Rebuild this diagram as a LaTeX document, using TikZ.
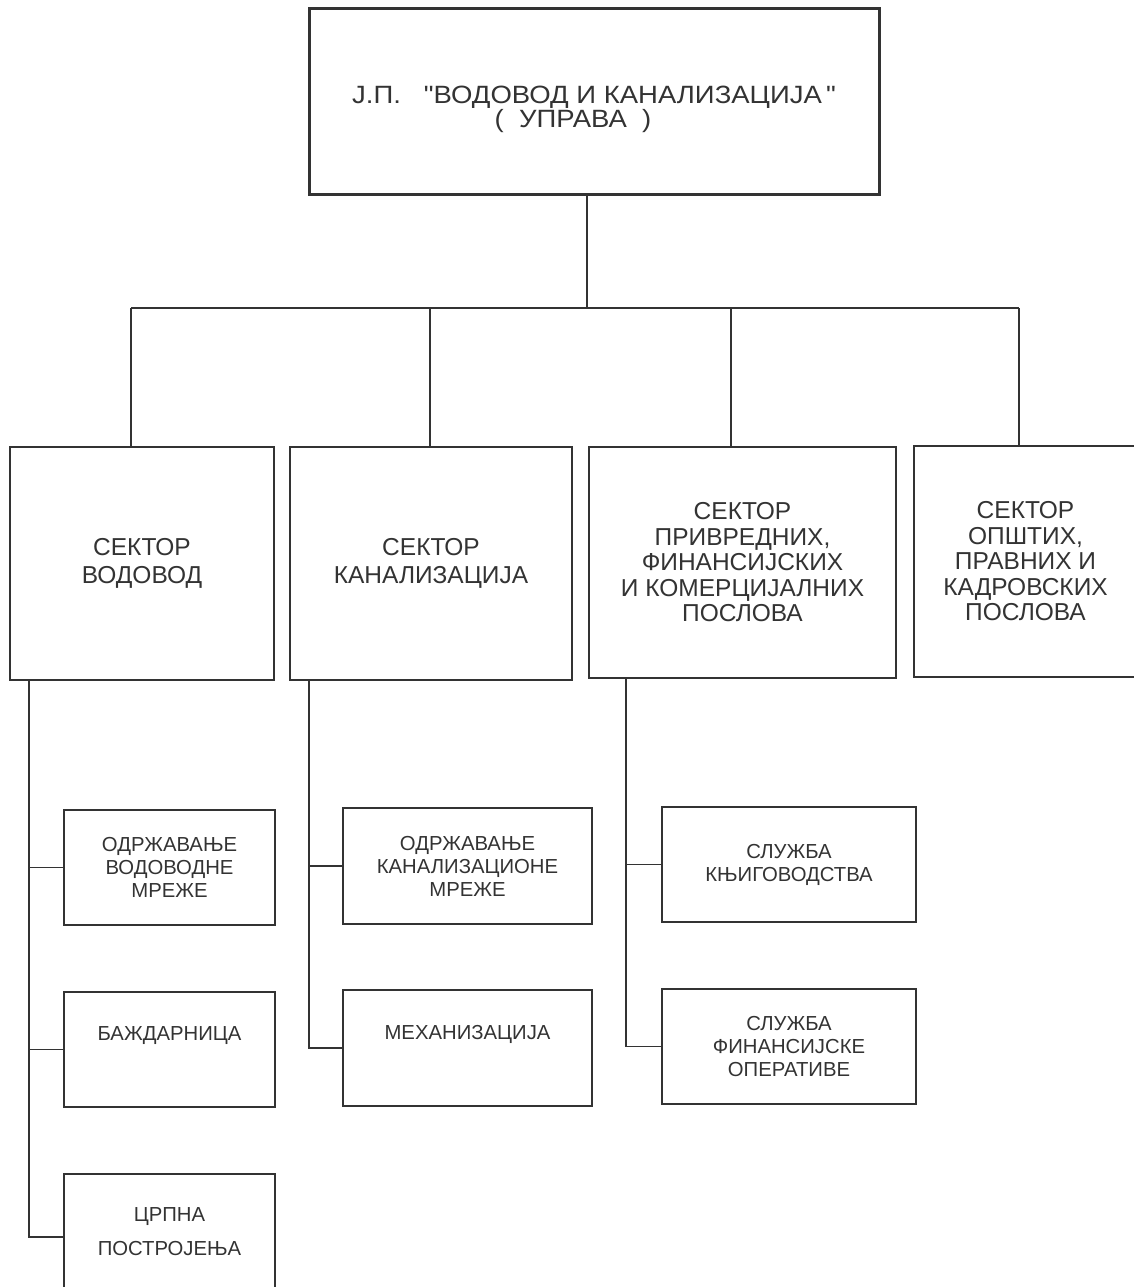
\documentclass[tikz,border=0pt]{standalone}
\usepackage{fontspec}
\setmainfont{Liberation Sans}[Ligatures=TeXOff]
\newfontfamily\upravafont{Liberation Sans}[Ligatures=TeXOff,FakeStretch=1.1]
\begin{document}
\begin{tikzpicture}[x=1pt,y=-1pt,line width=1.3pt,draw=black!80,
    box/.style={rectangle,draw=black!80,text=black!80,align=center,inner sep=0pt},
    uprava/.style={box,line width=3pt,minimum width=570pt,minimum height=185pt,
        font=\upravafont\fontsize{25}{23}\selectfont},
    sector/.style={box,minimum height=233pt,font=\fontsize{24.5}{28.5}\selectfont},
    sectorlong/.style={box,minimum height=231pt,font=\fontsize{24.5}{25.5}\selectfont},
    unit/.style={box,minimum height=115pt,font=\fontsize{20.3}{23}\selectfont}]
    \useasboundingbox (0,0) rectangle (1133,1287);

    \node[uprava] (U) at (594,101.5)
        {\mbox{}\\[10pt]J.П.\ \ \ "ВОДОВОД И КАНАЛИЗАЦИЈА\,"\hspace*{8pt}\\(\ \ УПРАВА\ \ )\hspace*{42pt}};

    \node[sector,minimum width=264pt] (S1) at (142,563.5) {СЕКТОР\\ВОДОВОД};
    \node[sector,minimum width=282pt] (S2) at (431,563.5) {СЕКТОР\\КАНАЛИЗАЦИЈА};
    \node[sectorlong,minimum width=307pt] (S3) at (742.5,562.5)
        {СЕКТОР\\ПРИВРЕДНИХ,\\ФИНАНСИЈСКИХ\\И КОМЕРЦИЈАЛНИХ\\ПОСЛОВА};
    \node[sectorlong,minimum width=223pt] (S4) at (1025.5,561.5)
        {СЕКТОР\\ОПШТИХ,\\ПРАВНИХ И\\КАДРОВСКИХ\\ПОСЛОВА};

    \node[unit,minimum width=211pt] (V1) at (169.5,867.5) {ОДРЖАВАЊЕ\\ВОДОВОДНЕ\\МРЕЖЕ};
    \node[unit,minimum width=211pt] (V2) at (169.5,1049.5) {БАЖДАРНИЦА\\[8pt]\mbox{}};
    \node[unit,minimum width=211pt] (V3) at (169.5,1231.5) {ЦРПНА\\[11pt]ПОСТРОЈЕЊА};

    \node[unit,minimum width=249pt,minimum height=116pt] (K1) at (467.5,866)
        {ОДРЖАВАЊЕ\\КАНАЛИЗАЦИОНЕ\\МРЕЖЕ};
    \node[unit,minimum width=249pt,minimum height=116pt] (K2) at (467.5,1048)
        {МЕХАНИЗАЦИЈА\\[8pt]\mbox{}};

    \node[unit,minimum width=254pt] (F1) at (789,864.5) {СЛУЖБА\\КЊИГОВОДСТВА};
    \node[unit,minimum width=254pt] (F2) at (789,1046.5) {СЛУЖБА\\ФИНАНСИЈСКЕ\\ОПЕРАТИВЕ};

    \coordinate (B0) at (587,308);
    \coordinate (B1) at (131,308);
    \coordinate (B2) at (430,308);
    \coordinate (B3) at (731,308);
    \coordinate (B4) at (1019,308);
    \coordinate (L1) at (29,0);
    \coordinate (L2) at (309,0);
    \coordinate (L3) at (626,0);

    \draw (B0 |- U.south) -- (B0);
    \draw (B1) -- (B4);
    \draw (B1) -- (B1 |- S1.north);
    \draw (B2) -- (B2 |- S2.north);
    \draw (B3) -- (B3 |- S3.north);
    \draw (B4) -- (B4 |- S4.north);

    \draw (L1 |- S1.south) |- ([yshift=-5.5pt]V3.west);
    \draw (L1 |- V1.west) -- (V1.west);
    \draw (L1 |- V2.west) -- (V2.west);

    \draw (L2 |- S2.south) |- (K2.west);
    \draw (L2 |- K1.west) -- (K1.west);

    \draw (L3 |- S3.south) |- (F2.west);
    \draw (L3 |- F1.west) -- (F1.west);
\end{tikzpicture}
\end{document}
